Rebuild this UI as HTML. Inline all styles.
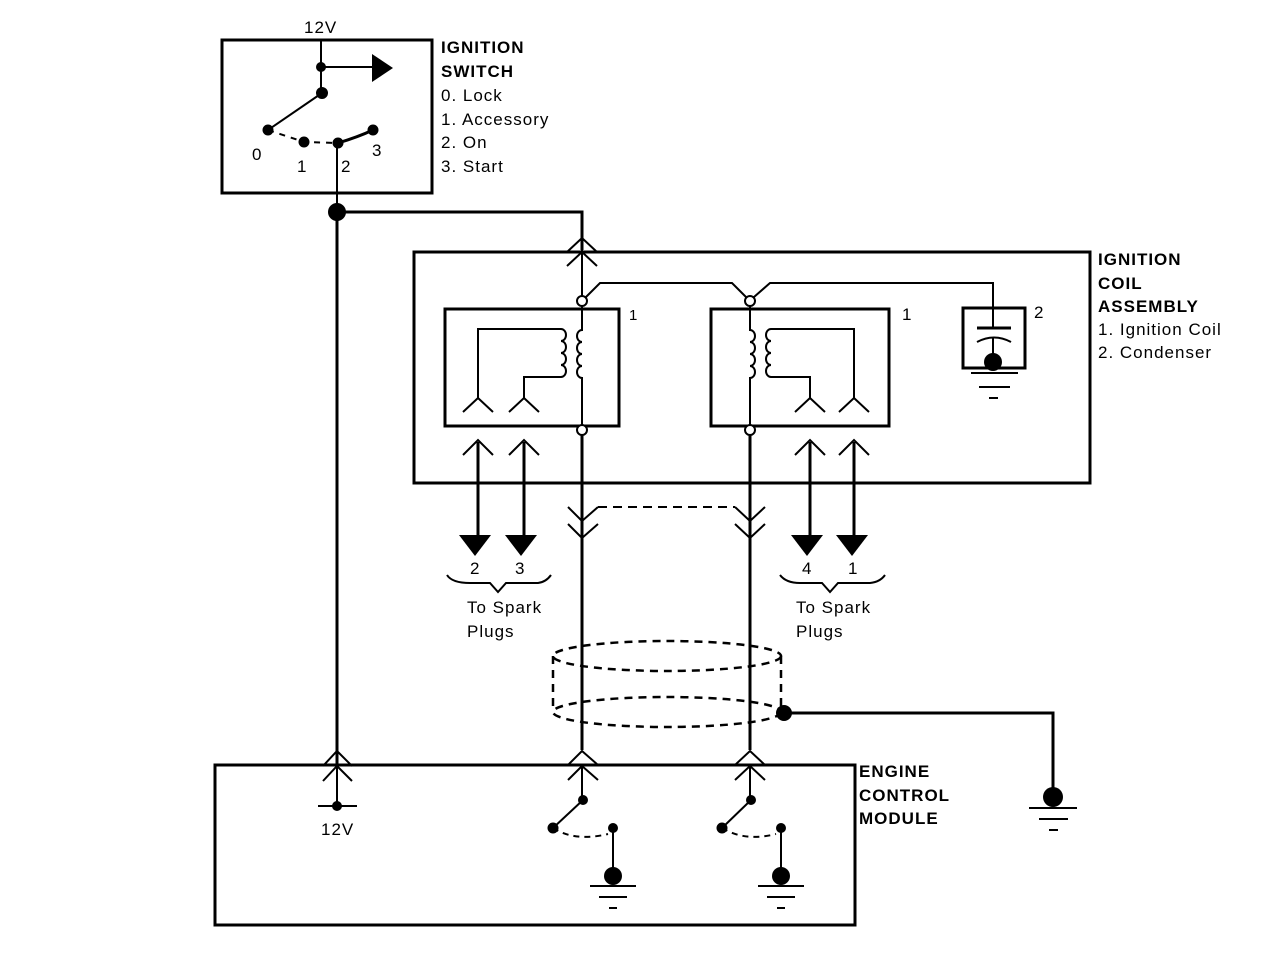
<!DOCTYPE html>
<html><head><meta charset="utf-8"><style>
html,body{margin:0;padding:0;background:#fff;}
svg{display:block;}
text{font-family:"Liberation Sans",Arial,sans-serif;font-size:17px;letter-spacing:1px;fill:#000;}
.b{font-weight:bold;}
</style></head><body>
<svg width="1264" height="978" viewBox="0 0 1264 978" xmlns="http://www.w3.org/2000/svg" fill="none" stroke="#000" stroke-width="2">
<rect x="222" y="40" width="210" height="153" stroke-width="3"/>
<text x="304" y="33" stroke="none">12V</text>
<line x1="321" y1="40" x2="321" y2="93"/>
<line x1="321" y1="67" x2="372" y2="67"/>
<polygon points="372,54 393,68 372,82" fill="#000" stroke="none"/>
<circle cx="321" cy="67" r="4" fill="#000"/>
<circle cx="322" cy="93" r="5" fill="#000"/>
<line x1="322" y1="93" x2="268" y2="130"/>
<circle cx="268" cy="130" r="4.5" fill="#000"/>
<path d="M268 130 L304 142 L338 143" stroke-dasharray="6,6"/>
<circle cx="304" cy="142" r="4.5" fill="#000"/>
<path d="M338 143 Q358 137 373 130" stroke-width="3"/>
<circle cx="338" cy="143" r="4.5" fill="#000"/>
<circle cx="373" cy="130" r="4.5" fill="#000"/>
<text x="252" y="160" stroke="none">0</text>
<text x="297" y="172" stroke="none">1</text>
<text x="341" y="172" stroke="none">2</text>
<text x="372" y="156" stroke="none">3</text>
<text x="441" y="53" class="b" stroke="none">IGNITION</text>
<text x="441" y="77" class="b" stroke="none">SWITCH</text>
<text x="441" y="101" stroke="none">0. Lock</text>
<text x="441" y="125" stroke="none">1. Accessory</text>
<text x="441" y="148" stroke="none">2. On</text>
<text x="441" y="172" stroke="none">3. Start</text>
<line x1="337" y1="143" x2="337" y2="212"/>
<circle cx="337" cy="212" r="8" fill="#000"/>
<line x1="337" y1="212" x2="337" y2="765" stroke-width="3"/>
<polyline points="337,212 582,212 582,250" stroke-width="3"/>
<rect x="414" y="252" width="676" height="231" stroke-width="3"/>
<text x="1098" y="265" class="b" stroke="none">IGNITION</text>
<text x="1098" y="289" class="b" stroke="none">COIL</text>
<text x="1098" y="312" class="b" stroke="none">ASSEMBLY</text>
<text x="1098" y="335" stroke="none">1. Ignition Coil</text>
<text x="1098" y="358" stroke="none">2. Condenser</text>
<polyline points="567,252 582,238 597,252"/>
<polyline points="567,266 582,252 597,266"/>
<line x1="582" y1="250" x2="582" y2="297"/>
<polyline points="586,297 600,283 732,283 746,297"/>
<polyline points="754,297 770,283 993,283 993,328"/>
<rect x="445" y="309" width="174" height="117" stroke-width="3"/>
<text x="629" y="320" stroke="none" style="font-size:15px">1</text>
<circle cx="582" cy="301" r="5" fill="#fff"/>
<circle cx="582" cy="430" r="5" fill="#fff"/>
<path d="M582 306 L582 330 a5 6 0 0 0 0 12 a5 6 0 0 0 0 12 a5 6 0 0 0 0 12 a5 6 0 0 0 0 12 L582 425"/>
<path d="M478 398 L478 329 L561 329 a5 6 0 0 1 0 12 a5 6 0 0 1 0 12 a5 6 0 0 1 0 12 a5 6 0 0 1 0 12 L524 377 L524 398"/>
<polyline points="463,412 478,398 493,412"/>
<polyline points="509,412 524,398 539,412"/>
<rect x="711" y="309" width="178" height="117" stroke-width="3"/>
<text x="902" y="320" stroke="none">1</text>
<circle cx="750" cy="301" r="5" fill="#fff"/>
<circle cx="750" cy="430" r="5" fill="#fff"/>
<path d="M750 306 L750 330 a5 6 0 0 1 0 12 a5 6 0 0 1 0 12 a5 6 0 0 1 0 12 a5 6 0 0 1 0 12 L750 425"/>
<path d="M854 398 L854 329 L771 329 a5 6 0 0 0 0 12 a5 6 0 0 0 0 12 a5 6 0 0 0 0 12 a5 6 0 0 0 0 12 L810 377 L810 398"/>
<polyline points="795,412 810,398 825,412"/>
<polyline points="839,412 854,398 869,412"/>
<rect x="963" y="308" width="62" height="60" stroke-width="3"/>
<text x="1034" y="318" stroke="none">2</text>
<line x1="977" y1="328" x2="1011" y2="328" stroke-width="3"/>
<path d="M977 342 Q994 333 1011 342" stroke-width="2"/>
<line x1="993" y1="338" x2="993" y2="360"/>
<circle cx="993" cy="362" r="9" fill="#000" stroke="none"/>
<line x1="971" y1="373" x2="1018" y2="373"/>
<line x1="979" y1="387" x2="1010" y2="387"/>
<line x1="989" y1="398" x2="998" y2="398"/>
<g stroke-width="3">
<line x1="478" y1="442" x2="478" y2="538"/>
<line x1="524" y1="442" x2="524" y2="538"/>
<line x1="810" y1="442" x2="810" y2="538"/>
<line x1="854" y1="442" x2="854" y2="538"/>
</g>
<polyline points="463,455 478,440 493,455"/>
<polyline points="509,455 524,440 539,455"/>
<polyline points="795,455 810,440 825,455"/>
<polyline points="839,455 854,440 869,455"/>
<polygon points="459,535 491,535 475,556" fill="#000" stroke="none"/>
<polygon points="505,535 537,535 521,556" fill="#000" stroke="none"/>
<polygon points="791,535 823,535 807,556" fill="#000" stroke="none"/>
<polygon points="836,535 868,535 852,556" fill="#000" stroke="none"/>
<text x="470" y="574" stroke="none">2</text>
<text x="515" y="574" stroke="none">3</text>
<text x="802" y="574" stroke="none">4</text>
<text x="848" y="574" stroke="none">1</text>
<path d="M447 575 Q452 583 470 583 L490 583 L498 592 L506 583 L538 583 Q546 582 551 575"/>
<path d="M780 575 Q786 583 800 583 L822 583 L830 592 L838 583 L870 583 Q880 582 885 575"/>
<text x="467" y="613" stroke="none">To Spark</text>
<text x="467" y="637" stroke="none">Plugs</text>
<text x="796" y="613" stroke="none">To Spark</text>
<text x="796" y="637" stroke="none">Plugs</text>
<line x1="582" y1="435" x2="582" y2="750" stroke-width="3"/>
<line x1="750" y1="435" x2="750" y2="750" stroke-width="3"/>
<polyline points="568,507 582,521 598,507"/>
<polyline points="568,524 582,538 598,524"/>
<polyline points="735,507 750,521 765,507"/>
<polyline points="735,524 750,538 765,524"/>
<line x1="598" y1="507" x2="735" y2="507" stroke-dasharray="9,6"/>
<g stroke-dasharray="8,6" stroke-width="2.5">
<ellipse cx="667" cy="656" rx="114" ry="15"/>
<ellipse cx="667" cy="712" rx="114" ry="15"/>
<line x1="553" y1="656" x2="553" y2="712"/>
<line x1="781" y1="656" x2="781" y2="712"/>
</g>
<circle cx="784" cy="713" r="7" fill="#000"/>
<polyline points="784,713 1053,713 1053,790" stroke-width="3"/>
<circle cx="1053" cy="797" r="10" fill="#000" stroke="none"/>
<line x1="1029" y1="808" x2="1077" y2="808"/>
<line x1="1039" y1="819" x2="1068" y2="819"/>
<line x1="1049" y1="830" x2="1058" y2="830"/>
<rect x="215" y="765" width="640" height="160" stroke-width="3"/>
<text x="859" y="777" class="b" stroke="none">ENGINE</text>
<text x="859" y="801" class="b" stroke="none">CONTROL</text>
<text x="859" y="824" class="b" stroke="none">MODULE</text>
<polyline points="323,766 337,751 352,766"/>
<polyline points="323,781 337,766 352,781"/>
<line x1="337" y1="765" x2="337" y2="806"/>
<line x1="318" y1="806" x2="357" y2="806"/>
<circle cx="337" cy="806" r="4" fill="#000"/>
<text x="321" y="835" stroke="none">12V</text>
<g>
<polyline points="568,765 582,751 598,765"/>
<polyline points="568,780 582,766 598,780"/>
<line x1="582" y1="765" x2="582" y2="800"/>
<circle cx="583" cy="800" r="4" fill="#000"/>
<line x1="583" y1="800" x2="553" y2="828"/>
<circle cx="553" cy="828" r="4.5" fill="#000"/>
<path d="M553 828 Q575 842 608 834" stroke-dasharray="6,5"/>
<circle cx="613" cy="828" r="4" fill="#000"/>
<line x1="613" y1="828" x2="613" y2="870"/>
<circle cx="613" cy="876" r="9" fill="#000" stroke="none"/>
<line x1="590" y1="886" x2="636" y2="886"/>
<line x1="599" y1="897" x2="627" y2="897"/>
<line x1="609" y1="908" x2="617" y2="908"/>
</g>
<g>
<polyline points="735,765 750,751 765,765"/>
<polyline points="735,780 750,766 765,780"/>
<line x1="750" y1="765" x2="750" y2="800"/>
<circle cx="751" cy="800" r="4" fill="#000"/>
<line x1="751" y1="800" x2="722" y2="828"/>
<circle cx="722" cy="828" r="4.5" fill="#000"/>
<path d="M722 828 Q745 842 776 834" stroke-dasharray="6,5"/>
<circle cx="781" cy="828" r="4" fill="#000"/>
<line x1="781" y1="828" x2="781" y2="870"/>
<circle cx="781" cy="876" r="9" fill="#000" stroke="none"/>
<line x1="758" y1="886" x2="804" y2="886"/>
<line x1="767" y1="897" x2="795" y2="897"/>
<line x1="777" y1="908" x2="785" y2="908"/>
</g>
</svg>
</body></html>
